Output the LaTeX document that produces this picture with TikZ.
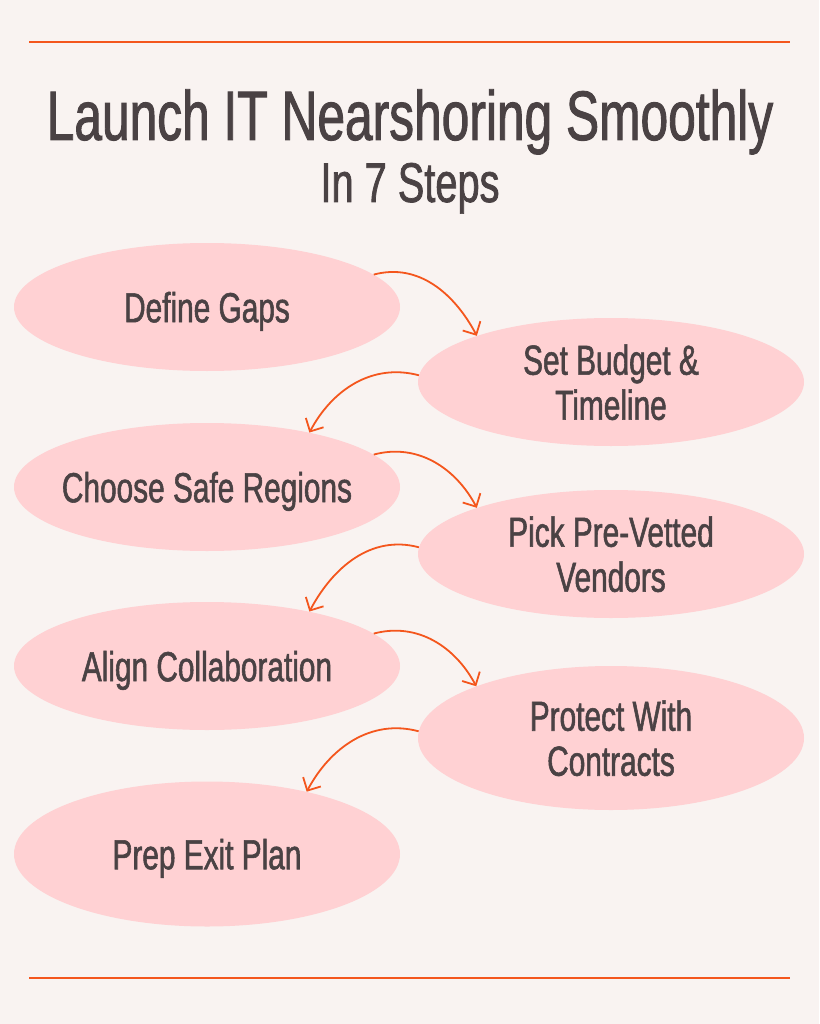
\documentclass[tikz,border=0pt]{standalone}
\usepackage{fontspec}
\setmainfont[FakeStretch=0.71,FakeBold=1.3]{Liberation Sans}
\usetikzlibrary{shapes.geometric, arrows.meta}
\definecolor{paper}{HTML}{F9F3F1}
\definecolor{blush}{HTML}{FFD1D3}
\definecolor{ink}{HTML}{4A4244}
\definecolor{rust}{HTML}{F4561D}
\tikzset{
        >={Straight Barb[length=10pt,width=20pt]}, % open arrow heads
        stepnode/.style={ellipse, fill=blush, text=ink, minimum width=386pt, minimum height=128pt,
            inner xsep=-14pt, inner ysep=0pt, text depth=0pt, align=center,
            font=\fontsize{42}{45}\selectfont}, % every step
        flow/.style={->, draw=rust, line width=1.8pt}, % curved links between steps
        rule/.style={draw=rust, line width=2.6pt}, % top and bottom lines
    }

\begin{document}
\begin{tikzpicture}[x=1pt,y=-1pt]
    \fill[paper] (0,0) rectangle (819,1024);
    \useasboundingbox (0,0) rectangle (819,1024);

    \coordinate (topL) at (29,42);
    \coordinate (topR) at (790,42);
    \coordinate (botL) at (29,978);
    \coordinate (botR) at (790,978);
    \draw[rule] (topL) -- (topR);
    \draw[rule] (botL) -- (botR);

    \node[text=ink, anchor=base, font=\fontsize{70}{70}\selectfont] (title) at (410,140) {Launch IT Nearshoring Smoothly};
    \node[text=ink, anchor=base, font=\fontsize{56}{56}\selectfont] (subtitle) at (410,202) {In 7 Steps};

    \node[stepnode] (gaps) at (207,307) {Define Gaps};
    \node[stepnode] (budget) at (611,382) {Set Budget \&\\Timeline};
    \node[stepnode] (regions) at (207,487) {Choose Safe Regions};
    \node[stepnode] (vendors) at (611,554) {Pick Pre-Vetted\\Vendors};
    \node[stepnode] (collab) at (207,666) {Align Collaboration};
    \node[stepnode, minimum height=144pt] (contracts) at (611,738) {Protect With\\Contracts};
    \node[stepnode, minimum height=145pt] (exit) at (207,854) {Prep Exit Plan};

    \draw[flow] (gaps.11) to[out=15,in=118] (budget.161);
    \draw[flow] (budget.178) to[out=165,in=62] (regions.28);
    \draw[flow] (regions.11) to[out=15,in=118] (vendors.161);
    \draw[flow] (vendors.178) to[out=165,in=62] (collab.28);
    \draw[flow] (collab.11) to[out=15,in=118] (contracts.159);
    \draw[flow] (contracts.178) to[out=165,in=62] (exit.32);
\end{tikzpicture}
\end{document}
